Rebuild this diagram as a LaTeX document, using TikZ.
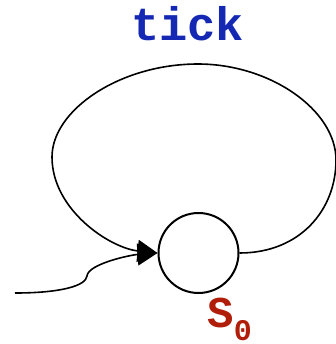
\documentclass[tikz,border=0pt]{standalone}
\usepackage{fontspec}
\setmonofont{Liberation Mono}
\usetikzlibrary{arrows.meta,positioning}
\definecolor{ink}{HTML}{000000}
\definecolor{tickblue}{HTML}{1428B4}
\definecolor{statered}{HTML}{B01E0A}
\tikzset{
  state/.style={draw=ink, circle, line width=1pt, minimum size=40pt, inner sep=0pt},
  trans/.style={-{Triangle[length=10pt,width=11pt]}, line width=0.8pt, draw=ink},
  evlabel/.style={font=\ttfamily\bfseries\fontsize{23.5}{24}\selectfont, text=tickblue, inner sep=0pt},
  stlabel/.style={font=\ttfamily\bfseries, text=statered, inner sep=0pt}
}
\begin{document}
\begin{tikzpicture}[x=0.5pt,y=-0.5pt]
\useasboundingbox (0,0) rectangle (336,344);
\node[state] (s0) at (198.5,253) {};
\coordinate (init) at (15,293);
\node[evlabel, anchor=base] (tick) at (187.5,40) {tick};
\node[stlabel, anchor=base west] (s0name) at (207,327) {{\fontsize{22}{22}\selectfont S}\raisebox{-6.5pt}{\fontsize{15}{15}\selectfont 0}};
% self loop
\draw[trans] (s0.east) .. controls (300,253) and (336,210) .. (336,160)
  .. controls (336,110) and (270,64) .. (198,64)
  .. controls (120,64) and (52,110) .. (52,157)
  .. controls (52,210) and (110,248) .. (s0.west);
% initial arrow
\draw[trans] (init) .. controls (60,293) and (86,286) .. (87,276)
  .. controls (88,264) and (130,255) .. (s0.west);
\end{tikzpicture}
\end{document}
